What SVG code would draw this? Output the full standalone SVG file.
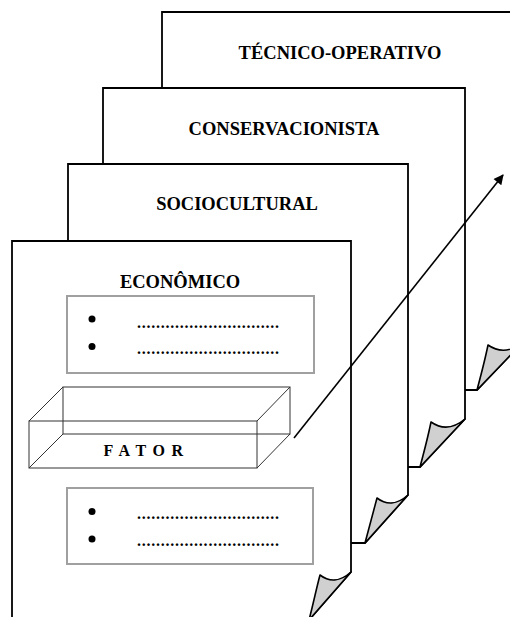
<svg xmlns="http://www.w3.org/2000/svg" width="510" height="617" viewBox="0 0 510 617">
  <style>
    .page { fill: #ffffff; stroke: #000000; stroke-width: 1.8; stroke-linejoin: miter; }
    .curl { fill: #d0d0d0; stroke: #000000; stroke-width: 1.6; stroke-linejoin: round; }
    .title { font-family: "Liberation Serif", "Times New Roman", serif; font-weight: bold; font-size: 18.5px; fill: #000; text-anchor: middle; }
    .list { fill: #ffffff; stroke: #a0a0a0; stroke-width: 2; }
    .dots { font-family: "Liberation Serif", "Times New Roman", serif; font-weight: bold; font-size: 16px; fill: #000; }
    .bullet { fill: #000; }
    .prism { fill: none; stroke: #333333; stroke-width: 1; }
    .factor { font-family: "Liberation Serif", "Times New Roman", serif; font-weight: bold; font-size: 16px; fill: #000; text-anchor: middle; letter-spacing: 1.3px; }
    .arrow { fill: none; stroke: #000; stroke-width: 1.6; }
  </style>
  <defs>
    <marker id="head" viewBox="0 0 10 10" refX="9" refY="5" markerWidth="14" markerHeight="10" markerUnits="userSpaceOnUse" orient="auto">
      <path d="M0,0 L10,5 L0,10 Z" fill="#000"/>
    </marker>
  </defs>

  <!-- back sheet -->
  <g id="tecnico-operativo">
    <path class="page" d="M162,12 H522 V343 L477,390 H162 Z"/>
    <path class="curl" d="M522,343 C510,352 498,352 488,345 C485,360 481,375 477,390 Z"/>
    <text class="title" x="340" y="59">TÉCNICO-OPERATIVO</text>
  </g>

  <g id="conservacionista">
    <path class="page" d="M103,88 H465 V419 L420,467 H103 Z"/>
    <path class="curl" d="M465,419 C453,429 441,429 431,422 C428,437 424,452 420,467 Z"/>
    <text class="title" x="284" y="135">CONSERVACIONISTA</text>
  </g>

  <g id="sociocultural">
    <path class="page" d="M68,164 H408 V495 L365,543 H68 Z"/>
    <path class="curl" d="M408,495 C397,505 386,505 377,498 C373,513 369,528 365,543 Z"/>
    <text class="title" x="237" y="210">SOCIOCULTURAL</text>
  </g>

  <!-- front sheet -->
  <g id="economico">
    <path class="page" d="M12,241 H351 V572 L309,620 H12 Z"/>
    <path class="curl" d="M351,572 C340,582 329,582 320,575 C316,590 313,605 309,620 Z"/>
    <text class="title" x="180" y="288">ECONÔMICO</text>

    <g id="list-top">
      <rect class="list" x="67" y="296" width="247" height="77"/>
      <circle class="bullet" cx="92" cy="319" r="3.5"/>
      <circle class="bullet" cx="92" cy="346.5" r="3.5"/>
      <text class="dots" x="137" y="328" textLength="142" lengthAdjust="spacing">..............................</text>
      <text class="dots" x="137" y="354" textLength="142" lengthAdjust="spacing">..............................</text>
    </g>

    <g id="fator">
      <!-- back face -->
      <rect class="prism" x="63" y="387" width="227" height="47"/>
      <!-- front face -->
      <rect class="prism" x="29" y="421" width="228" height="47"/>
      <!-- depth edges -->
      <line class="prism" x1="29" y1="421" x2="63" y2="387"/>
      <line class="prism" x1="257" y1="421" x2="290" y2="387"/>
      <line class="prism" x1="29" y1="468" x2="63" y2="434"/>
      <line class="prism" x1="257" y1="468" x2="290" y2="434"/>
      <text class="factor" x="144" y="456">F A T O R</text>
    </g>

    <g id="list-bottom">
      <rect class="list" x="67" y="488" width="246" height="76"/>
      <circle class="bullet" cx="92" cy="511.5" r="3.5"/>
      <circle class="bullet" cx="92" cy="539" r="3.5"/>
      <text class="dots" x="137" y="519" textLength="142" lengthAdjust="spacing">..............................</text>
      <text class="dots" x="137" y="546" textLength="142" lengthAdjust="spacing">..............................</text>
    </g>
  </g>

  <g id="connectors">
    <line class="arrow" x1="294" y1="438" x2="503" y2="175" marker-end="url(#head)"/>
  </g>
</svg>
